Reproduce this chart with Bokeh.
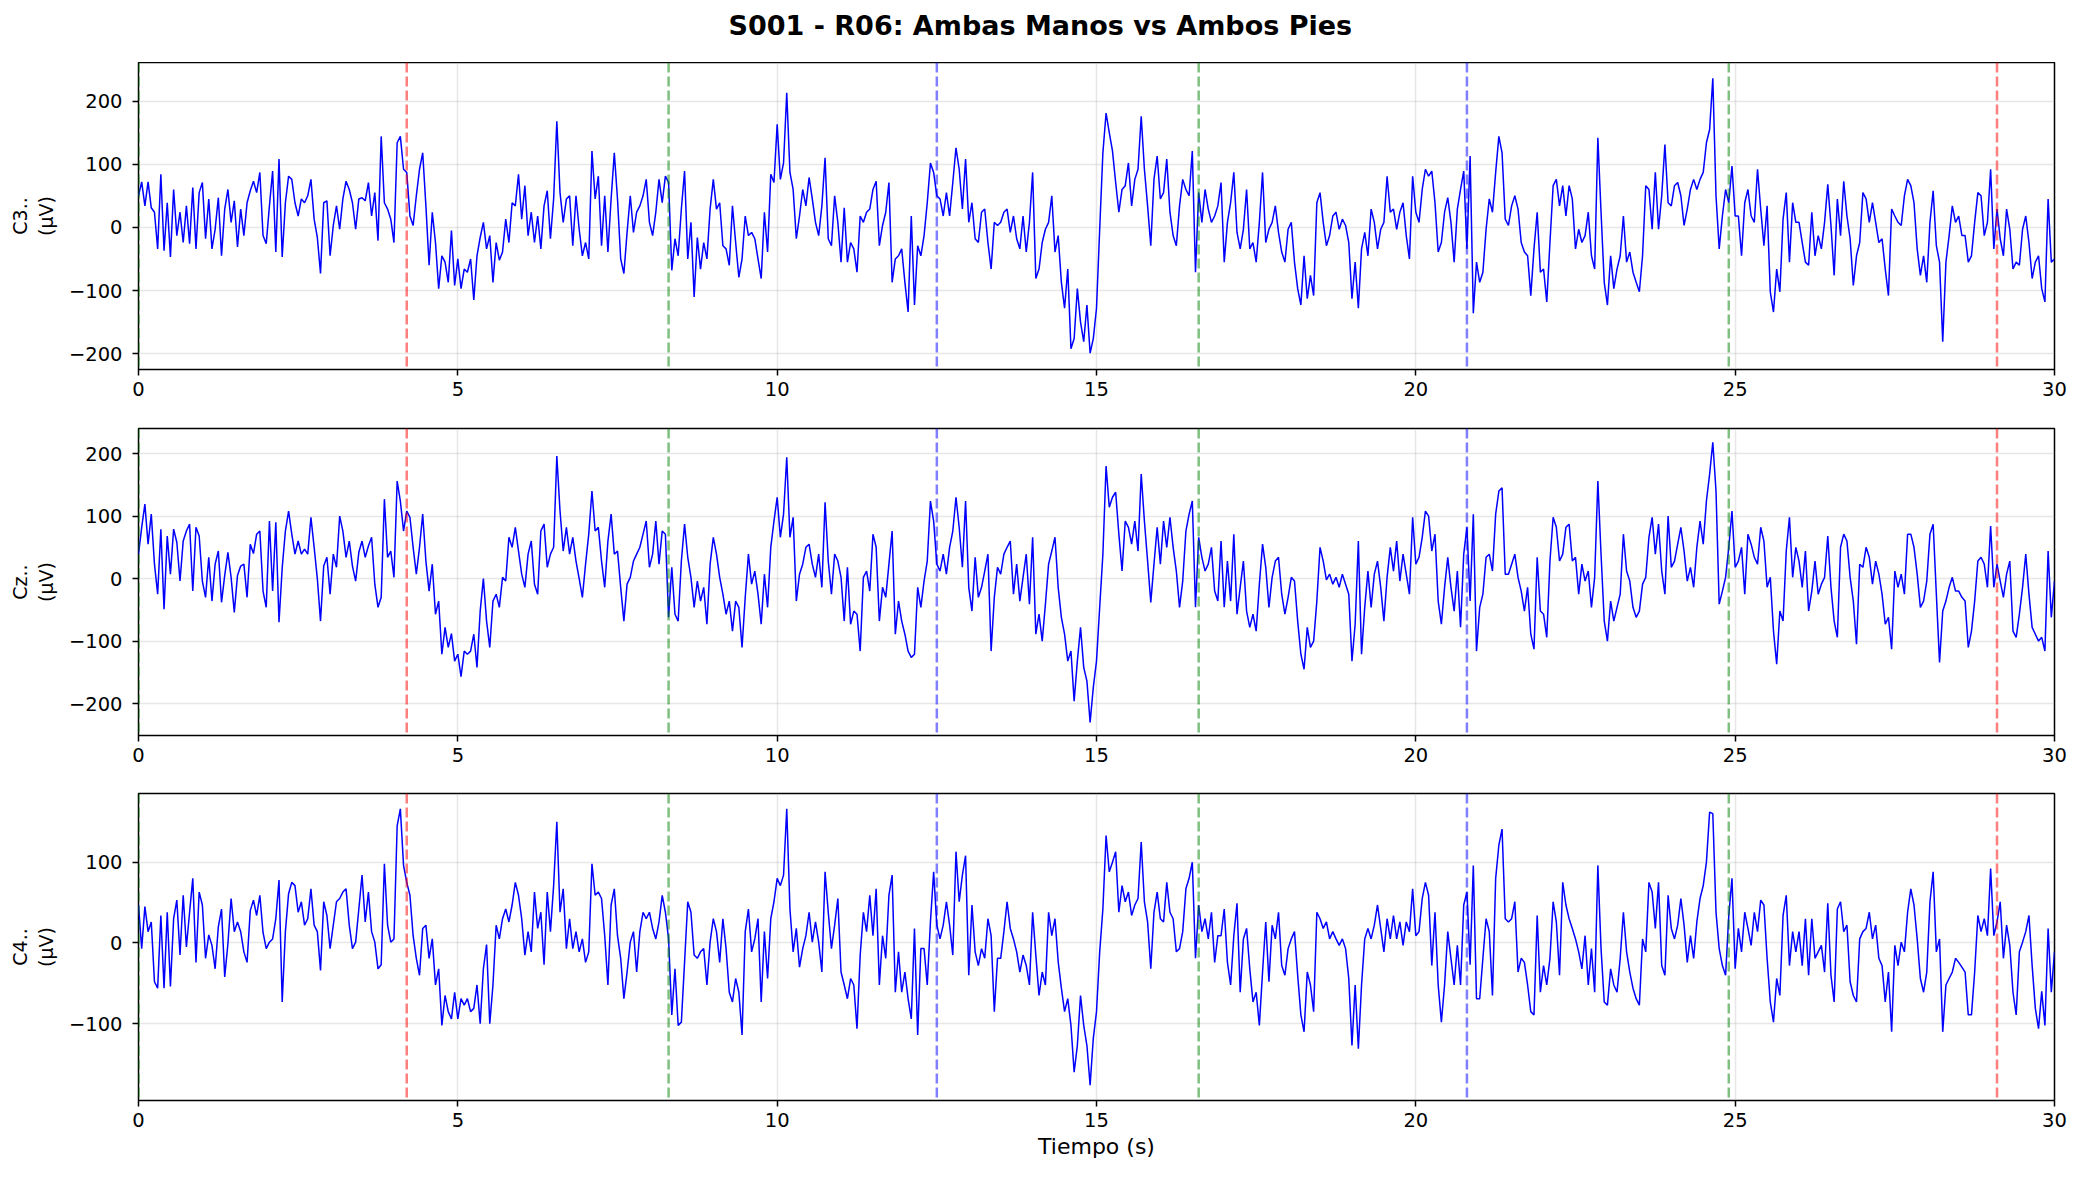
import numpy as np
from bokeh.plotting import figure
from bokeh.models import Range1d, Span, FixedTicker
from bokeh.layouts import column
from bokeh.embed import file_html
from bokeh.resources import INLINE

# ---------------- data ----------------
dt = 0.05  # seconds between the read-off samples

c3_uV = [
    50, 72, 34, 72, 31, 24, -34, 84, -37, 39, -47, 60, -13, 24, -24, 34, -26, 63, -34, 55,
    71, -18, 45, -34, -3, 47, -45, 29, 60, 8, 42, -31, 29, -13, 39, 58, 73, 55, 87, -13,
    -26, 34, 89, -39, 108, -47, 39, 81, 76, 39, 18, 45, 39, 50, 76, 13, -16, -73, 39, 42,
    -45, 3, 34, -3, 45, 73, 60, 39, -3, 45, 47, 42, 71, 18, 55, -21, 144, 39, 29, 13,
    -24, 134, 144, 92, 87, 18, 3, 50, 92, 118, 34, -60, 24, -24, -97, -45, -55, -87, -5, -92,
    -50, -97, -66, -71, -50, -115, -45, -16, 8, -34, -13, -87, -24, -52, -39, 13, -24, 39, 34, 84,
    13, 66, -13, 24, -24, 18, -34, 34, 58, -18, 45, 168, 55, 8, 45, 50, -29, 50, -3, -45,
    -24, -50, 121, 45, 81, -29, 50, -39, 45, 118, 45, -50, -73, -8, 50, -8, 24, 34, 50, 76,
    8, -13, 24, 76, 39, 81, 71, -68, -18, -45, 29, 89, -50, 8, -110, -16, -66, -24, -50, 29,
    76, 29, 39, -29, -34, -60, 34, -24, -79, -50, 18, -13, -8, -18, -50, -81, 24, -39, 84, 71,
    163, 76, 102, 213, 87, 60, -18, 18, 60, 34, 79, 45, 8, -13, 34, 110, -18, -29, 50, 8,
    -55, 31, -55, -24, -34, -71, 18, 8, 24, 29, 60, 73, -29, 3, 24, 71, -87, -50, -45, -34,
    -87, -134, 18, -123, -29, -45, -13, 39, 102, 87, 50, 45, 18, 55, 18, 71, 126, 92, 29, 108,
    8, 39, -18, -24, 24, 29, -24, -66, 8, 3, 8, 24, 29, -8, 18, -18, -34, 18, -39, 8,
    87, -81, -66, -24, -3, 8, 50, -39, -13, -87, -128, -66, -192, -176, -97, -150, -181, -123, -199, -176,
    -128, -3, 118, 181, 150, 121, 71, 24, 60, 66, 102, 34, 76, 92, 176, 92, 34, -29, 76, 113,
    45, 55, 108, 24, -13, -29, 34, 76, 60, 50, 121, -71, 55, 8, 60, 29, 8, 18, 34, 71,
    -55, 8, 39, 87, -8, -34, -3, 60, -34, -24, -55, 8, 87, -24, -3, 8, 34, -8, -39, -55,
    -3, 8, -55, -97, -123, -45, -113, -76, -108, 39, 55, 8, -29, -13, 18, 24, -3, 13, 3, -24,
    -113, -55, -128, -34, -8, -45, 29, 8, -34, -3, 8, 81, 24, 29, -3, 24, 39, -13, -50, 81,
    24, 8, 60, 92, 81, 89, 39, -39, -24, 24, 47, 8, -55, 29, 60, 89, -34, 113, -136, -55,
    -87, -71, -3, 45, 24, 87, 144, 118, 13, 3, 34, 50, 29, -24, -39, -45, -108, -34, 24, -71,
    -66, -118, -24, 66, 76, 34, 66, 18, 66, 45, -34, -3, -24, -13, 24, -45, -66, 142, 24, -87,
    -123, -45, -97, -66, -45, 18, -55, -39, -71, -87, -102, -45, 66, 60, -3, 87, -3, 50, 131, 39,
    34, 66, 71, 50, 3, 29, 60, 76, 60, 76, 87, 134, 155, 236, 50, -34, 18, 60, 39, 97,
    18, 18, -45, 39, 60, 18, 8, 92, 29, -29, 34, -102, -134, -66, -102, 13, 55, -55, 39, 8,
    8, -24, -55, -60, 24, -45, -13, -34, 8, 68, 3, -76, 45, -13, 73, 18, -18, -92, -45, -24,
    55, 45, 8, 39, 8, -24, -18, -66, -108, 29, 18, 8, 3, 50, 76, 66, 39, -34, -76, -45,
    -87, 8, 58, -29, -55, -181, -55, -13, 34, 8, 18, -13, -13, -55, -45, 8, 55, 50, -13, 8,
    92, -34, 29, -18, -45, 29, -3, -66, -55, -60, -3, 18, -24, -81, -55, -45, -97, -118, 45, -55, -50,
]

cz_uV = [
    39, 82, 119, 55, 103, 23, -25, 79, -49, 68, 7, 79, 58, -4, 60, 76, 87, -20, 82, 68,
    -4, -30, 34, -36, 23, 44, -38, 5, 42, 2, -54, 5, 20, 23, -30, 55, 40, 71, 76, -20,
    -46, 92, -20, 90, -70, 17, 76, 108, 71, 39, 60, 39, 47, 39, 98, 50, 0, -68, 20, 34,
    -25, 39, 18, 100, 76, 34, 60, 20, -4, 42, 60, 34, 52, 66, -9, -46, -30, 127, 34, 44,
    2, 156, 124, 76, 108, 98, 50, 7, 50, 103, 28, -20, 23, -57, -36, -121, -78, -110, -88, -132,
    -121, -157, -116, -121, -116, -89, -142, -52, 0, -68, -110, -36, -25, -46, 2, -4, 66, 50, 82, 44,
    7, -14, 39, 60, -9, -25, 76, 87, 18, 39, 50, 196, 108, 44, 82, 39, 66, 28, 0, -30,
    23, 71, 140, 76, 82, 28, -14, 60, 103, 39, 44, -14, -68, -9, 2, 28, 39, 50, 71, 92,
    18, 39, 92, 23, 76, 71, -62, 18, -57, -68, 28, 87, 34, 2, -46, -4, -36, -14, -73, 23,
    66, 39, 2, -25, -57, -36, -84, -36, -46, -110, -30, 39, -9, 12, -25, -73, 7, -46, 50, 92,
    130, 66, 103, 194, 66, 98, -36, 7, 23, 50, 55, 23, 2, 39, -14, 122, 28, -25, 39, 28,
    2, -68, 18, -73, -52, -57, -116, 2, 12, -20, 71, 50, -68, -14, -30, 23, 76, -89, -36, -68,
    -89, -116, -126, -121, -14, -46, -4, 28, 124, 92, 23, 12, 39, 7, 50, 76, 130, 82, 18, 124,
    -14, -52, 34, -30, -14, 12, 39, -116, -30, 18, 7, 39, 50, 60, -25, 23, -36, 2, 39, -41,
    66, -89, -57, -100, -41, 23, 44, 66, -14, -62, -89, -132, -116, -196, -132, -78, -142, -164, -230, -174,
    -132, -46, 39, 180, 114, 130, 138, 71, 12, 92, 82, 55, 92, 44, 167, 92, 28, -38, 23, 82,
    23, 92, 50, 98, 50, 12, -46, -4, 76, 103, 124, -46, 66, 34, 12, 23, 50, -20, -36, 60,
    -46, 28, -36, 71, -57, -14, 28, -52, -78, -57, -84, -9, 55, 18, -46, 2, 28, 34, -25, -57,
    -30, 2, -4, -68, -121, -145, -78, -110, -100, -36, 50, 28, -2, 7, -9, 2, -14, 7, -9, -25,
    -132, -73, 60, -121, -46, 12, -46, 7, 28, -14, -68, 2, 50, 12, 60, -4, 39, 7, -25, 98,
    23, 34, 66, 108, 100, 44, 71, -36, -73, -14, 34, -14, -52, 12, -78, 39, 82, -36, 103, -116,
    -46, -25, 34, 39, 12, 103, 140, 145, 7, 7, 23, 39, 2, -20, -52, -14, -89, -113, 34, -52,
    -57, -94, 28, 98, 82, 28, 39, 82, 87, 28, 34, -25, 23, -4, 12, -46, 2, 156, 39, -68,
    -100, -36, -68, -46, -25, 71, 12, -4, -46, -62, -52, -9, 2, 66, 98, 39, 87, 12, -25, 100,
    18, 28, 55, 82, 44, -4, 18, -14, 50, 92, 55, 124, 167, 218, 140, -41, -20, 2, 50, 108,
    18, 28, 50, -25, 71, 55, 34, 23, 82, 60, -14, 2, -84, -137, -52, -68, 44, 98, 2, 50,
    28, -14, 44, -52, -20, 28, -25, -9, 2, 68, -14, -68, -94, 50, 71, 60, 2, -36, -105, 23,
    18, 50, 34, -9, 28, 7, -25, -73, -62, -113, 12, -14, 7, -25, 71, 71, 50, 7, -46, -36,
    -4, 71, 87, -25, -134, -52, -36, -14, 2, -20, -20, -30, -36, -110, -84, -36, 28, 34, 23, -14,
    84, -14, 23, -4, -30, 7, 28, -84, -94, -57, -14, 39, -25, -78, -89, -100, -94, -116, 44, -62, -4,
]

c4_uV = [
    47, -7, 45, 14, 26, -48, -56, 34, -56, 38, -54, 30, 53, -15, 59, -5, 38, 80, -24, 63,
    47, -19, 10, -3, -32, 20, 42, -42, -1, 55, 14, 26, 14, -11, -24, 40, 53, 34, 59, 13,
    -7, 1, 5, 30, 78, -73, 14, 61, 75, 71, 38, 51, 22, 30, 67, 22, 14, -34, 51, 34,
    -7, 22, 51, 55, 63, 67, 22, -7, 1, 42, 84, 26, 63, 14, 1, -32, -27, 98, 22, 1,
    5, 145, 166, 96, 75, 59, 9, -19, -40, 18, 22, -19, 5, -52, -32, -102, -65, -85, -94, -61,
    -94, -69, -77, -69, -85, -81, -52, -100, -32, -2, -100, -52, 22, 5, 30, 42, 26, 47, 75, 59,
    30, -15, 14, -11, 63, 18, 38, -27, 63, 14, 71, 150, 38, 67, -7, 30, -7, 14, -11, 5,
    -24, -11, 98, 59, 63, 55, 9, -52, 47, 67, 9, -19, -69, -36, 1, 14, -36, 14, 38, 30,
    38, 18, 5, 26, 59, 38, 5, -89, -32, -102, -98, -24, 51, 38, -15, -19, -11, -7, -52, 1,
    30, 14, -24, 30, -7, -61, -73, -44, -61, -114, 14, 42, -11, 5, 30, -73, 14, -44, 30, 51,
    80, 71, 84, 166, 42, -11, 18, -30, -7, 9, 38, 1, 26, 1, -36, 88, 38, -7, 22, 55,
    -36, -52, -69, -44, -52, -106, -15, 38, 14, 59, 9, 67, -52, 9, -19, 59, 84, -61, -11, -61,
    -36, -69, -94, 18, -114, -7, -7, -52, 26, 88, 22, 5, 22, 51, 22, -15, 113, 51, 84, 108,
    -40, 47, -11, -28, -7, -19, 30, 9, -85, -19, -19, 14, 51, 18, 5, -11, -36, -15, -28, -52,
    38, -15, -65, -36, -52, 38, 9, 30, -23, -56, -85, -69, -102, -160, -127, -65, -102, -127, -176, -118,
    -85, -11, 42, 133, 88, 100, 113, 38, 71, 51, 63, 34, 47, 55, 125, 51, 26, -32, 38, 63,
    30, 26, 75, 38, 30, -11, -7, 14, 67, 80, 100, -19, 47, 14, 30, 5, 38, -24, 9, 9,
    42, -24, -52, 9, 49, -61, 5, 18, -32, -73, -61, -102, -36, 26, -48, 22, 5, 38, -28, -40,
    -7, 5, 14, -40, -89, -110, -36, -52, -85, 38, 30, 18, 26, 5, 14, 5, -3, 5, -7, -44,
    -127, -52, -131, -52, 5, 18, 5, 22, 47, 18, -11, 30, 5, 34, 5, 26, -3, 26, 14, 67,
    9, 14, 55, 75, 59, -28, 38, -52, -98, -52, 14, -19, -52, -3, -52, 47, 63, -27, 96, -69,
    -69, -19, 30, 14, -65, 80, 121, 141, 30, 26, 30, 51, -36, -19, -24, -52, -85, -89, 34, -61,
    -28, -52, -19, 51, 26, -40, 75, 47, 30, 18, 5, -11, -32, 9, -52, -7, -61, 96, -7, -73,
    -77, -32, -52, -61, -19, 38, -11, -36, -56, -69, -77, 5, -11, 75, 63, 18, 75, -28, -40, 59,
    18, 5, 22, 55, 22, -24, 9, -19, 26, 55, 71, 100, 162, 160, 38, -7, -28, -40, 34, 80,
    -32, 18, -11, 38, 18, -3, 38, 14, 53, 47, -19, -73, -98, -44, -65, 34, 59, -28, 14, -11,
    14, -28, 30, -40, 30, -19, -11, -3, -36, 49, -40, -73, 42, 51, 14, 22, -48, -65, -73, 5,
    14, 18, 38, 5, 22, -19, -28, -73, -36, -110, -3, -28, 1, -11, 38, 67, 47, 5, -44, -61,
    -36, 51, 88, -11, 5, -110, -52, -44, -36, -19, -24, -30, -36, -89, -89, -36, 34, 14, 30, 9,
    92, 9, 26, 51, -19, 22, -3, -61, -89, -11, 1, 14, 34, -28, -81, -106, -60, -102, 18, -61, -11,
]

channel_names = ["C3..", "Cz..", "C4.."]
y_limits = [(-225, 261), (-251, 240), (-195, 185)]
y_ticks = [[-200, -100, 0, 100, 200], [-200, -100, 0, 100, 200], [-100, 0, 100]]
x_ticks = [0, 5, 10, 15, 20, 25, 30]
event_onsets = [0.0, 4.2, 8.3, 12.5, 16.6, 20.8, 24.9, 29.1]
event_codes = ["T0", "T1", "T0", "T2", "T0", "T2", "T0", "T1"]
event_colors = {"T0": "#008000", "T1": "#ff0000", "T2": "#0000ff"}
title_text = "S001 - R06: Ambas Manos vs Ambos Pies"
x_label = "Tiempo (s)"

# ---------------- drawing ----------------
FONT = "DejaVu Sans"

# title strip above the three panels (its frame is aligned with theirs by the column)
tp = figure(width=2072, height=62, x_range=Range1d(0, 1), y_range=Range1d(0, 1),
            x_axis_type=None, y_axis_type=None, output_backend="svg",
            toolbar_location=None, min_border_left=138, min_border_right=18,
            min_border_top=0, min_border_bottom=0,
            background_fill_color="white", border_fill_color="white",
            title=title_text)
tp.outline_line_color = None
tp.grid.visible = False
tp.title.align = "left"
tp.title.offset = 590
tp.title.vertical_align = "middle"
tp.title.standoff = 17
tp.title.text_font = FONT
tp.title.text_font_size = "27px"
tp.title.text_font_style = "bold"
tp.title.text_color = "black"

signals = [c3_uV, cz_uV, c4_uV]
borders = [(0, 40), (19, 40), (18, 72)]

figs = [tp]
for i, (name, vals) in enumerate(zip(channel_names, signals)):
    t = np.arange(len(vals)) * dt
    top, bottom = borders[i]
    p = figure(frame_width=1916, frame_height=307,
               x_range=Range1d(0, 30), y_range=Range1d(*y_limits[i]),
               output_backend="svg", toolbar_location=None,
               min_border_left=138, min_border_right=18,
               min_border_top=top, min_border_bottom=bottom,
               background_fill_color="white", border_fill_color="white")
    p.outline_line_color = "black"
    p.outline_line_width = 1.5
    p.outline_line_alpha = 1.0

    p.line(t, vals, line_color="#0000ff", line_width=1.5)

    for onset, code in zip(event_onsets, event_codes):
        p.add_layout(Span(location=onset, dimension="height",
                          line_color=event_colors[code], line_alpha=0.5,
                          line_width=2.5, line_dash="10 4"))

    p.xaxis.ticker = FixedTicker(ticks=x_ticks)
    p.yaxis.ticker = FixedTicker(ticks=y_ticks[i])
    p.yaxis.major_label_overrides = {v: ("\u2212" + str(-v)) for v in y_ticks[i] if v < 0}

    for ax in (p.xaxis, p.yaxis):
        ax.axis_line_color = None
        ax.major_tick_line_color = "black"
        ax.major_tick_line_width = 1.5
        ax.major_tick_out = 6
        ax.major_tick_in = 0
        ax.minor_tick_line_color = None
        ax.major_label_text_font = FONT
        ax.major_label_text_font_size = "19.5px"
        ax.major_label_text_color = "black"
    p.xaxis.major_label_standoff = 6
    p.yaxis.major_label_standoff = 10

    p.yaxis.axis_label = name + "\n(\u00b5V)"
    p.yaxis.axis_label_text_font = FONT
    p.yaxis.axis_label_text_font_size = "19px"
    p.yaxis.axis_label_text_font_style = "normal"
    p.yaxis.axis_label_text_color = "black"
    p.yaxis.axis_label_standoff = 9

    p.grid.grid_line_color = "#b0b0b0"
    p.grid.grid_line_alpha = 0.3
    p.grid.grid_line_width = 1.5

    if i == 2:
        p.xaxis.axis_label = x_label
        p.xaxis.axis_label_text_font = FONT
        p.xaxis.axis_label_text_font_size = "22px"
        p.xaxis.axis_label_text_font_style = "normal"
        p.xaxis.axis_label_text_color = "black"
        p.xaxis.axis_label_standoff = 4
    figs.append(p)

layout = column(*figs, spacing=0)
open("out.html", "w").write(file_html(layout, INLINE))
